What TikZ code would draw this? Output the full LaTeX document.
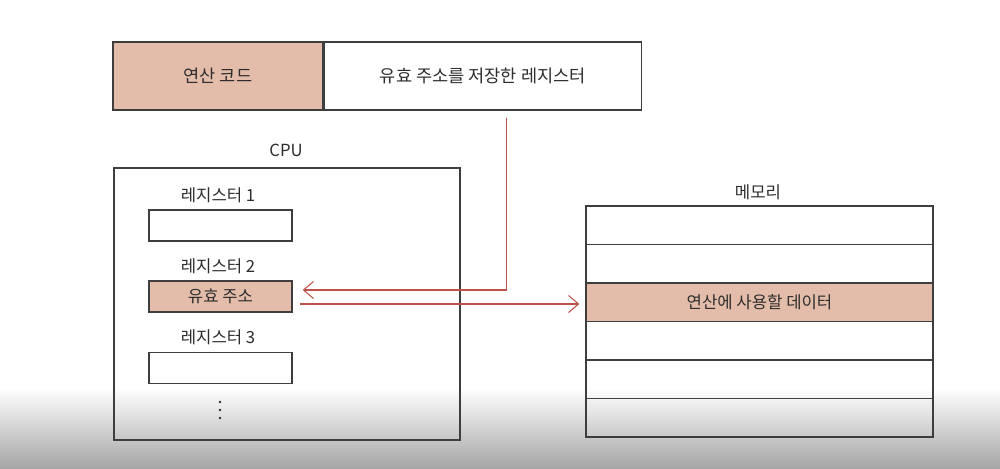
\documentclass[tikz,border=0pt]{standalone}
\usepackage{fontspec}
\setmainfont{Noto Sans CJK KR}
\usepackage{tikz}
\usetikzlibrary{arrows.meta,positioning,calc}
\definecolor{opfill}{RGB}{228,189,170}
\definecolor{wire}{RGB}{190,82,72}
\definecolor{edge}{RGB}{62,62,62}
\definecolor{ink}{RGB}{45,45,45}

\begin{document}
\begin{tikzpicture}[x=0.02cm, y=-0.02cm, every node/.style={font=\fontsize{9.5}{11}\selectfont, text=ink}]
\tikzset{field/.style={draw=edge, line width=0.8pt, minimum height=1.36cm, inner sep=0pt, font=\fontsize{10}{12}\selectfont}}
\tikzset{reg/.style={draw=edge, line width=0.8pt, minimum width=2.86cm, minimum height=0.62cm, inner sep=0pt}}
\tikzset{cell/.style={draw=edge, line width=0.8pt, minimum width=6.94cm, minimum height=0.77cm, inner sep=0pt}}
\tikzset{ptr/.style={draw=wire, line width=0.6pt, -{Straight Barb[length=2mm, width=3.4mm]}}}
% page and the fade at the bottom
\fill[white] (0,0) rectangle (1000,468);
\shade[top color=white, bottom color=black!35] (0,388) rectangle (1000,468);
\useasboundingbox (0,0) rectangle (1000,468);
% instruction
\node[field, minimum width=4.2cm, fill=opfill] (opc) at (218,76) {연산 코드};
\node[field, minimum width=6.34cm, right=0pt of opc] (opr) {유효 주소를 저장한 레지스터};
% CPU
\node[draw=edge, line width=0.8pt, minimum width=6.92cm, minimum height=5.44cm] (cpu) at (287,304) {};
\node (cpulbl) at (286,150) {CPU};
\node[reg] (r1) at (220.5,225.5) {};
\node[reg, fill=opfill] (r2) at (220.5,296.5) {유효 주소};
\node[reg] (r3) at (220.5,368) {};
\node (rl1) at (218,195) {레지스터 1};
\node (rl2) at (218,266) {레지스터 2};
\node (rl3) at (218,337.5) {레지스터 3};
\foreach \y in {402,410,418}
  \fill[ink] (220,\y) circle[radius=1.4];
% memory
\node (meml) at (758,192) {메모리};
\foreach \i/\f/\t in {1/none/, 2/none/, 3/opfill/연산에 사용할 데이터, 4/none/, 5/none/, 6/none/}
  \node[cell, fill=\f] (m\i) at (759.5,{206+38.5*\i-19.25}) {\t};
% address and data paths
\coordinate (tap) at ($(opr.south)+(23.5,7)$);
\draw[ptr] (tap) |- ($(r2.east)+(10,-6.5)$);
\draw[ptr] ($(r2.east)+(7,7.5)$) -- ($(m3.west)+(-6,1.75)$);
\end{tikzpicture}
\end{document}
